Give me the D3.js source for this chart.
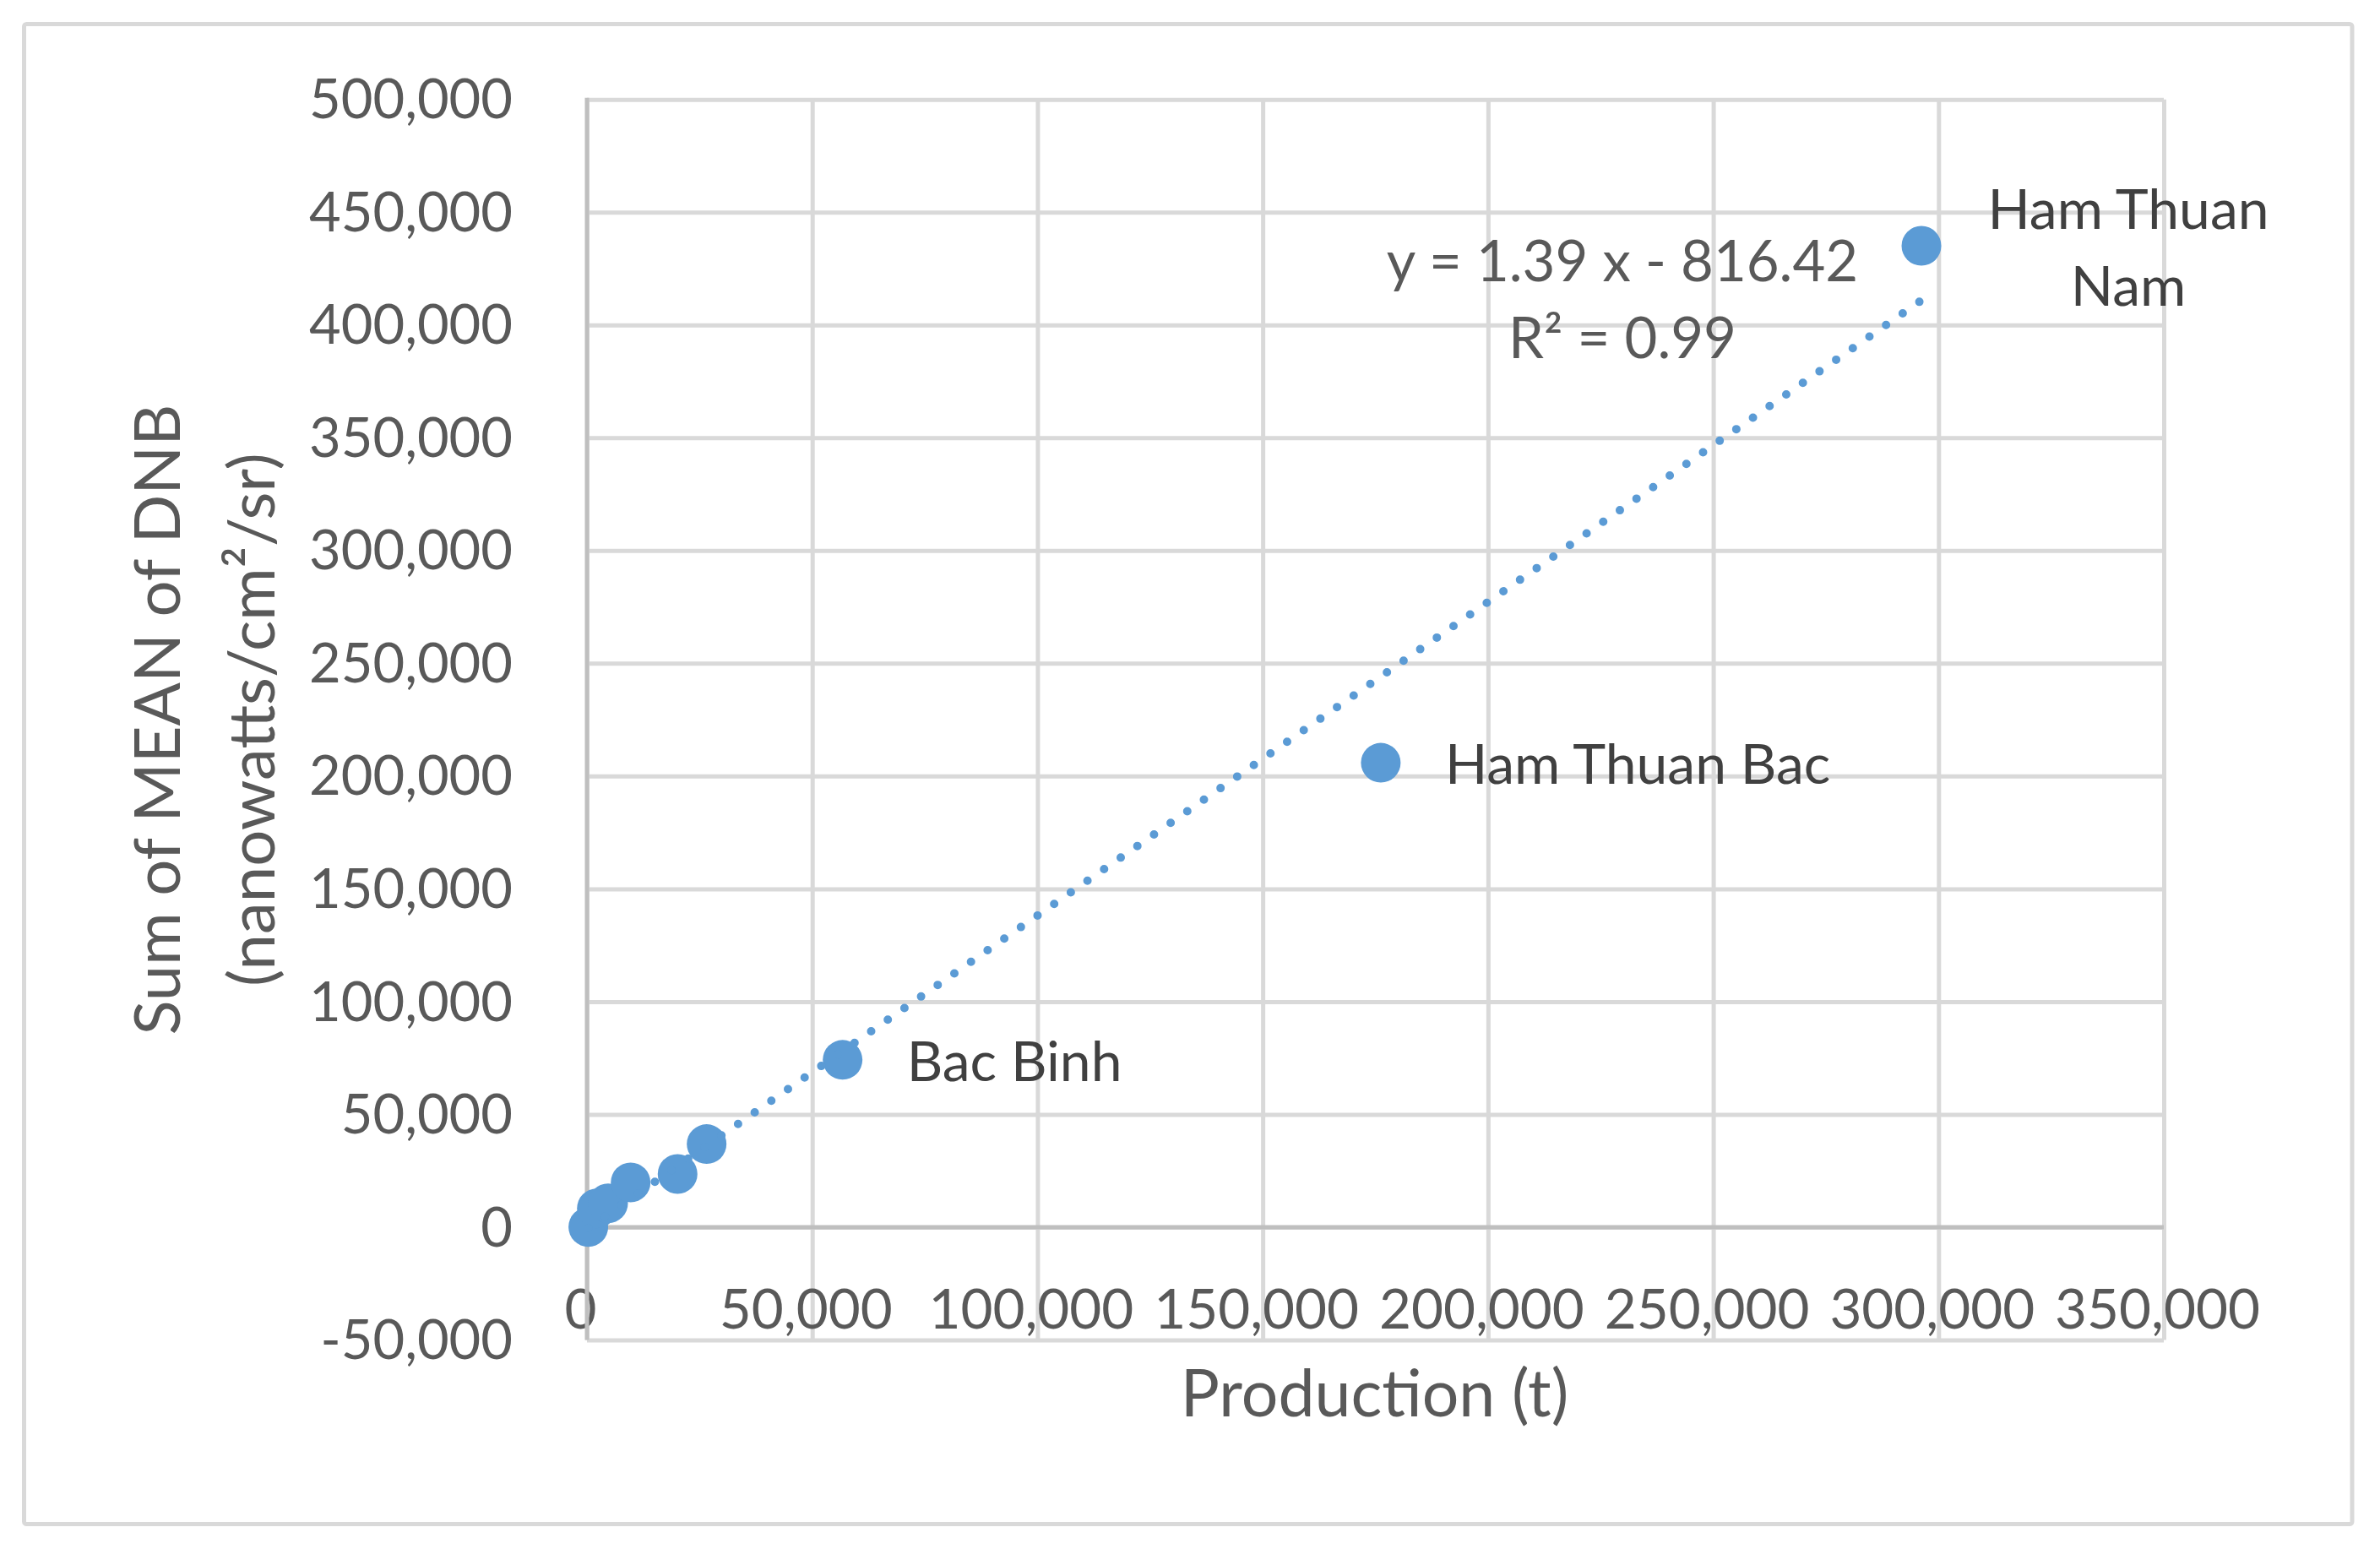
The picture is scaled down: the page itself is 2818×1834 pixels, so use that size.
<!DOCTYPE html>
<html>
<head>
<meta charset="utf-8">
<script src="https://cdn.jsdelivr.net/npm/d3@7"></script>
<style>
  html, body { margin: 0; padding: 0; background: #ffffff; }
  svg { display: block; }
  text { font-family: Lato, "Open Sans", "Noto Sans", sans-serif; }
</style>
</head>
<body>
<script>
// ---- data ----
const production = [300, 2190, 4690, 9690, 20110, 26560, 56740, 176200, 296200];
const dnb        = [100, 8360, 10600, 19860, 23600, 36830, 74180, 205900, 435100];
const pointNames = ["", "", "", "", "", "", "Bac Binh", "Ham Thuan Bac", "Ham Thuan Nam"];
const xTicks = [0, 50000, 100000, 150000, 200000, 250000, 300000, 350000];
const yTicks = [-50000, 0, 50000, 100000, 150000, 200000, 250000, 300000, 350000, 400000, 450000, 500000];
const trendSlope = 1.39;
const trendIntercept = -816.42;
const equationLines = ["y = 1.39 x - 816.42", "R² = 0.99"];
const xTitle = "Production (t)";
const yTitleLines = ["Sum of MEAN of DNB", "(nanowatts/cm²/sr)"];

// ---- layout ----
const W = 2818, H = 1834;
const plot = { left: 695, right: 2562, top: 117.7, bottom: 1586.5 };
const tickColor = "#595959", labelColor = "#404040";
const gridColor = "#d9d9d9", axisColor = "#bfbfbf", pointColor = "#5b9bd5";

const svg = d3.select("body").append("svg").attr("width", W).attr("height", H);
svg.append("rect").attr("width", W).attr("height", H).attr("fill", "#fff");

// chart border
svg.append("rect")
  .attr("x", 28.5).attr("y", 28.5).attr("width", 2785 - 28.5).attr("height", 1804.5 - 28.5)
  .attr("rx", 3).attr("fill", "none").attr("stroke", gridColor).attr("stroke-width", 5);

const x = d3.scaleLinear().domain([0, 350000]).range([plot.left, plot.right]);
const y = d3.scaleLinear().domain([-50000, 500000]).range([plot.bottom, plot.top]);
const fmt0 = d3.format(",");
const fmt = v => fmt0(v).replace("\u2212", "-");

// horizontal gridlines + y tick labels
const gy = svg.append("g").attr("transform", `translate(${plot.left},0)`)
  .call(d3.axisLeft(y).tickValues(yTicks).tickFormat(fmt)
    .tickSize(-(plot.right - plot.left)).tickPadding(88));
gy.select(".domain").remove();
gy.selectAll(".tick line").attr("stroke", gridColor).attr("stroke-width", 5);
gy.selectAll(".tick text").attr("fill", tickColor).attr("font-size", 65).attr("dy", "0.34em");

// vertical gridlines
const gx = svg.append("g").attr("transform", `translate(0,${plot.bottom})`)
  .call(d3.axisBottom(x).tickValues(xTicks).tickFormat("")
    .tickSize(-(plot.bottom - plot.top)));
gx.select(".domain").remove();
gx.selectAll(".tick line").attr("stroke", gridColor).attr("stroke-width", 5);

// x tick labels (drawn just above the bottom edge of the plot)
const gxl = svg.append("g").attr("transform", `translate(0,${plot.bottom})`)
  .call(d3.axisTop(x).tickValues(xTicks).tickFormat(fmt).tickSize(0).tickPadding(14));
gxl.select(".domain").remove();
gxl.selectAll(".tick text").attr("fill", tickColor).attr("font-size", 65.5).attr("dx", -8);

// axis lines at zero
svg.append("line")
  .attr("x1", x(0)).attr("x2", x(0)).attr("y1", plot.top - 2).attr("y2", plot.bottom)
  .attr("stroke", axisColor).attr("stroke-width", 5);
svg.append("line")
  .attr("x1", x(0)).attr("x2", x(350000)).attr("y1", y(0)).attr("y2", y(0))
  .attr("stroke", axisColor).attr("stroke-width", 5);

// points
const pts = production.map((p, i) => ({ x: p, y: dnb[i], name: pointNames[i] }));
svg.append("g").selectAll("circle").data(pts).join("circle")
  .attr("cx", d => x(d.x)).attr("cy", d => y(d.y)).attr("r", 23.5)
  .attr("fill", pointColor);

// trendline (dotted)
const xMin = d3.min(production), xMax = d3.max(production);
svg.append("line")
  .attr("x1", x(xMin)).attr("y1", y(trendSlope * xMin + trendIntercept))
  .attr("x2", x(xMax)).attr("y2", y(trendSlope * xMax + trendIntercept))
  .attr("stroke", pointColor).attr("stroke-width", 10)
  .attr("stroke-linecap", "round").attr("stroke-dasharray", "0 24");

// data labels
const lab = svg.append("g").attr("fill", labelColor).attr("font-size", 66);
pts.forEach(d => {
  if (!d.name) return;
  const px = x(d.x), py = y(d.y);
  if (d.name === "Ham Thuan Nam") {
    const t = lab.append("text").attr("text-anchor", "middle");
    t.append("tspan").attr("x", px + 245).attr("y", py - 20).text("Ham Thuan");
    t.append("tspan").attr("x", px + 245).attr("y", py + 71).text("Nam");
  } else {
    lab.append("text").attr("x", px + 76).attr("y", py + 25).text(d.name);
  }
});

// equation
const eq = svg.append("text").attr("fill", tickColor).attr("font-size", 67).attr("text-anchor", "middle");
eq.append("tspan").attr("x", 1921).attr("y", 333).text(equationLines[0]);
eq.append("tspan").attr("x", 1921).attr("y", 424).text(equationLines[1]);

// axis titles
svg.append("text").attr("x", (plot.left + plot.right) / 2 - 1).attr("y", 1677)
  .attr("text-anchor", "middle").attr("fill", tickColor).attr("font-size", 77).text(xTitle);

const yc = (plot.top + plot.bottom) / 2;
svg.append("text").attr("transform", `translate(213,${yc}) rotate(-90)`)
  .attr("text-anchor", "middle").attr("fill", tickColor).attr("font-size", 76).text(yTitleLines[0]);
svg.append("text").attr("transform", `translate(325,${yc}) rotate(-90)`)
  .attr("text-anchor", "middle").attr("fill", tickColor).attr("font-size", 76).text(yTitleLines[1]);
</script>
</body>
</html>
